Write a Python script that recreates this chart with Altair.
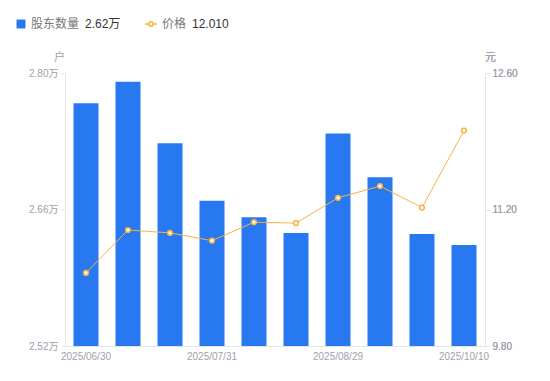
import altair as alt
import pandas as pd

dates = ["2025/06/30", "2025/07/10", "2025/07/18", "2025/07/31", "2025/08/08",
         "2025/08/15", "2025/08/29", "2025/09/10", "2025/09/19", "2025/10/10"]
holders = [2.769, 2.791, 2.728, 2.669, 2.652, 2.636, 2.738, 2.693, 2.635, 2.6235]  # 万户
price = [10.55, 10.99, 10.96, 10.88, 11.07, 11.06, 11.32, 11.44, 11.22, 12.01]
shown_labels = ["2025/06/30", "2025/07/31", "2025/08/29", "2025/10/10"]
left_ticks = [2.52, 2.66, 2.80]
right_ticks = [9.80, 11.20, 12.60]

df = pd.DataFrame({"date": dates, "holders": holders, "price": price})

FONT = "Liberation Sans, Noto Sans CJK SC, sans-serif"
GREY = "#a0a0ab"
BLUE = "#2878F2"
ORANGE = "#F7B33F"
W, H = 420, 273

label_expr = "indexof(" + str(shown_labels).replace("'", '"') + ", datum.value) >= 0 ? datum.value : ''"

x = alt.X("date:N", sort=dates, title=None,
          scale=alt.Scale(paddingInner=0, paddingOuter=0),
          axis=alt.Axis(labelExpr=label_expr, labelAngle=0, ticks=False,
                        domainColor="#e6e6e6", labelColor=GREY, labelFontSize=10,
                        labelPadding=5, labelFont=FONT))

bars = alt.Chart(df).mark_bar(size=25, color=BLUE).encode(
    x=x,
    y=alt.Y("holders:Q", title="户",
            scale=alt.Scale(domain=[left_ticks[0], left_ticks[-1]], zero=False, nice=False),
            axis=alt.Axis(values=left_ticks, labelExpr="format(datum.value, '.2f') + '万'",
                          grid=False, domainColor="#e6e6e6", tickColor="#e6e6e6", tickSize=4,
                          labelColor=GREY, labelFontSize=10, labelPadding=3, labelFont=FONT,
                          titleAngle=0, titleAlign="center", titleBaseline="middle",
                          titleX=-6, titleY=-16, titleColor=GREY, titleFontSize=11,
                          titleFontWeight="normal", titleFont=FONT)),
    y2=alt.datum(left_ticks[0]),
)

yr = alt.Y("price:Q", title="元",
           scale=alt.Scale(domain=[right_ticks[0], right_ticks[-1]], zero=False, nice=False),
           axis=alt.Axis(orient="right", values=right_ticks, format=".2f",
                         grid=False, domainColor="#e6e6e6", tickColor="#e6e6e6", tickSize=4,
                         labelColor=GREY, labelFontSize=10, labelPadding=3, labelFont=FONT,
                         titleAngle=0, titleAlign="center", titleBaseline="middle",
                         titleX=5, titleY=-16, titleColor=GREY, titleFontSize=11,
                         titleFontWeight="normal", titleFont=FONT))

line = alt.Chart(df).mark_line(color=ORANGE, strokeWidth=1).encode(x=x, y=yr)
pts = alt.Chart(df).mark_point(filled=True, fill="white", stroke=ORANGE, strokeWidth=1.5,
                               size=22, opacity=1).encode(x=x, y=yr)

leg_df = pd.DataFrame({"k": [0]})
legend_y = -49
sq = alt.Chart(leg_df).mark_square(size=80, color=BLUE, opacity=1, filled=True).encode(
    x=alt.value(-44), y=alt.value(legend_y))
t1 = alt.Chart(leg_df).mark_text(align="left", baseline="middle", fontSize=12, color="#777",
                                 font=FONT, text="股东数量").encode(
    x=alt.value(-34), y=alt.value(legend_y))
t2 = alt.Chart(leg_df).mark_text(align="left", baseline="middle", fontSize=12, color="#333",
                                 font=FONT, text=f"{holders[-1]:.2f}万").encode(
    x=alt.value(20), y=alt.value(legend_y))
lr = alt.Chart(leg_df).mark_rule(color=ORANGE, strokeWidth=1.5).encode(
    x=alt.value(80), x2=alt.value(92), y=alt.value(legend_y))
lp = alt.Chart(leg_df).mark_point(filled=True, fill="white", stroke=ORANGE, strokeWidth=1.5,
                                  size=20, opacity=1).encode(x=alt.value(86), y=alt.value(legend_y))
t3 = alt.Chart(leg_df).mark_text(align="left", baseline="middle", fontSize=12, color="#777",
                                 font=FONT, text="价格").encode(
    x=alt.value(97), y=alt.value(legend_y))
t4 = alt.Chart(leg_df).mark_text(align="left", baseline="middle", fontSize=12, color="#333",
                                 font=FONT, text=f"{price[-1]:.3f}").encode(
    x=alt.value(127), y=alt.value(legend_y))

chart = alt.layer(bars, line, pts, sq, t1, t2, lr, lp, t3, t4).resolve_scale(
    y="independent"
).properties(
    width=W, height=H,
    autosize=alt.AutoSizeParams(type="none"),
    padding={"left": 57, "top": 65, "right": 57, "bottom": 27},
).configure(font=FONT).configure_view(stroke="transparent", strokeWidth=0)

chart.save("out.html", embed_options={"renderer": "svg", "actions": False})
